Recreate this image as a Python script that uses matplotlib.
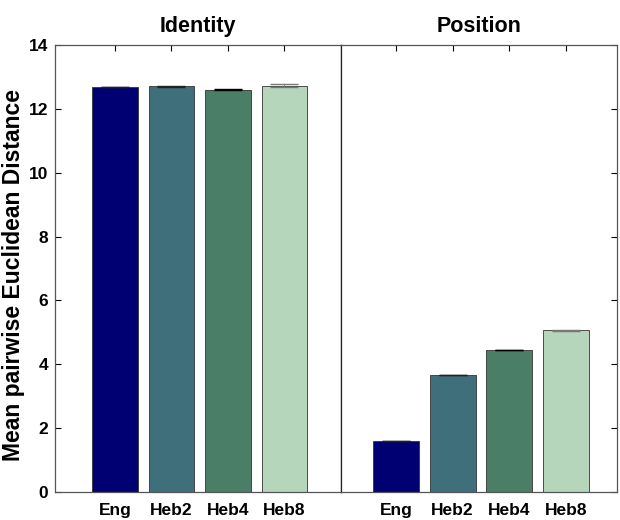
import numpy as np
import matplotlib
matplotlib.use('Agg')
import matplotlib.pyplot as plt

plt.rcParams['font.family'] = ['Liberation Sans', 'DejaVu Sans']
plt.rcParams['font.weight'] = 'bold'

# Data
groups = ['Eng', 'Heb2', 'Heb4', 'Heb8']
identity_vals = [12.68, 12.70, 12.60, 12.73]
identity_err = [0.01, 0.01, 0.015, 0.04]
position_vals = [1.60, 3.66, 4.45, 5.06]
position_err = [0.01, 0.01, 0.01, 0.01]
panel_titles = ['Identity', 'Position']
bar_colors = ['#000072', '#3f6f7a', '#4a7e67', '#b5d6bb']
err_colors = ['#222222', '#222222', 'black', '#777777']

fig = plt.figure(figsize=(6.2, 5.2), dpi=100)
ax1 = fig.add_axes([0.0887, 0.0538, 0.4613, 0.8597])
ax2 = fig.add_axes([0.5500, 0.0538, 0.4452, 0.8597], sharey=ax1)

x = np.arange(1, len(groups) + 1)

for ax, vals, errs, title in [(ax1, identity_vals, identity_err, panel_titles[0]),
                              (ax2, position_vals, position_err, panel_titles[1])]:
    ax.bar(x, vals, width=0.81, color=bar_colors, edgecolor='#333333', linewidth=0.6, zorder=2)
    for xi, v, e, ec in zip(x, vals, errs, err_colors):
        ax.errorbar(xi, v, yerr=e, ecolor=ec, elinewidth=0.6, capsize=10, capthick=1.0, zorder=3)
    ax.set_title(title, fontsize=15.5, fontweight='bold', pad=9)
    ax.set_xticks(x)
    ax.set_xticklabels(groups, fontsize=12.5, fontweight='bold')
    ax.tick_params(axis='x', direction='in', top=True, bottom=False, length=4, pad=8)
    for s in ax.spines.values():
        s.set_color('#555555')
        s.set_linewidth(0.9)

ax1.set_xlim(-0.06, 5.0)
ax2.set_xlim(0.03, 4.9)
ax1.set_ylim(0, 14)
ax1.set_yticks(np.arange(0, 15, 2))
ax1.tick_params(axis='y', direction='in', left=True, right=False, length=4, labelsize=12.5, pad=5)
ax2.tick_params(axis='y', direction='in', left=False, right=True, labelleft=False, length=4)
ax1.spines['right'].set_color('#222222')
ax2.spines['left'].set_color('#222222')

# y label placed in figure coords so it sits right at the left edge
fig.text(0.022, 0.472, 'Mean pairwise Euclidean Distance', rotation=90,
         fontsize=16.5, fontweight='bold', ha='center', va='center')

plt.savefig('out.png', dpi=100, facecolor='white')
